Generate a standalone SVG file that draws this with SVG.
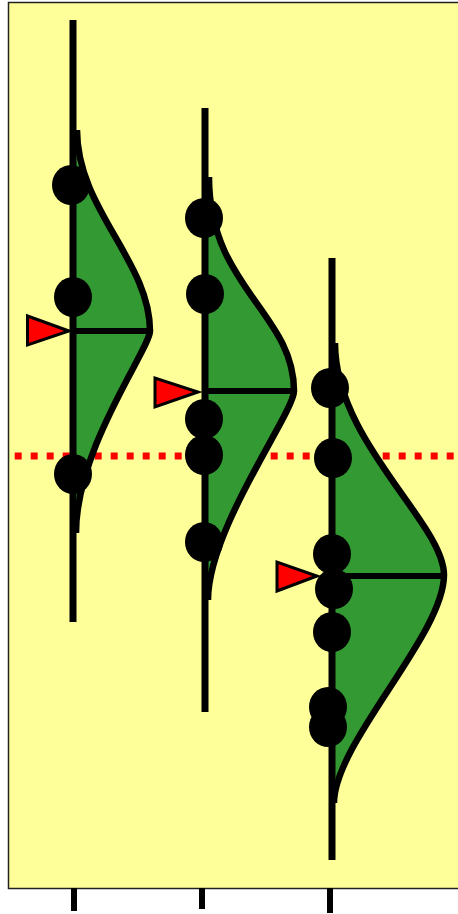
<svg xmlns="http://www.w3.org/2000/svg" width="458" height="914" viewBox="0 0 458 914">
<style>
.bg{fill:#ffff99;stroke:#222;stroke-width:1.5}
.axis{stroke:#000;stroke-width:7;fill:none}
.tick{stroke:#000;stroke-width:6}
.vfill{fill:#339933;stroke:none}
.vline{fill:none;stroke:#000;stroke-width:6.5;stroke-linejoin:round}
.med{stroke:#000;stroke-width:6}
.pt{fill:#000}
.tri{fill:#ff0000;stroke:#000;stroke-width:3;stroke-linejoin:miter}
.ref{stroke:#ff0000;stroke-width:7;stroke-dasharray:7 9;fill:none}
</style>
<rect class="bg" x="8.5" y="2.5" width="455" height="886"/>
<g id="ticks">
<line class="tick" x1="74" y1="888" x2="74" y2="911"/>
<line class="tick" x1="202" y1="888" x2="202" y2="909"/>
<line class="tick" x1="330" y1="888" x2="330" y2="913"/>
</g>
<g id="connectors">
<line class="ref" x1="14.7" y1="456" x2="458" y2="456"/>
</g>
<g id="group1">
<path class="vfill" d="M77,130 C77,209 150,261 150,331 C150,349 76,448 76,533 L73,533 L73,130 Z"/>
<path class="vline" d="M77,130 C77,209 150,261 150,331 C150,349 76,448 76,533"/>
<line class="axis" x1="73" y1="20" x2="73" y2="622"/>
<line class="med" x1="73" y1="331" x2="150" y2="331"/>
<ellipse class="pt" cx="71" cy="185" rx="19" ry="20"/>
<ellipse class="pt" cx="73" cy="297" rx="19" ry="20"/>
<ellipse class="pt" cx="73" cy="474" rx="19" ry="20"/>
<polygon class="tri" points="27.5,316 27.5,345 69,331"/>
</g>
<g id="group2">
<path class="vfill" d="M209,177 C209,287 294,313 294,391 C294,413 208,529 208,600 L205,600 L205,177 Z"/>
<path class="vline" d="M209,177 C209,287 294,313 294,391 C294,413 208,529 208,600"/>
<line class="axis" x1="205" y1="108" x2="205" y2="712"/>
<line class="med" x1="205" y1="391" x2="294" y2="391"/>
<ellipse class="pt" cx="204" cy="218" rx="19" ry="20"/>
<ellipse class="pt" cx="205" cy="294" rx="19" ry="20"/>
<ellipse class="pt" cx="204" cy="419" rx="19" ry="20"/>
<ellipse class="pt" cx="204" cy="455" rx="19" ry="20"/>
<ellipse class="pt" cx="204" cy="542" rx="19" ry="20"/>
<polygon class="tri" points="155,378 155,407 198,392"/>
</g>
<g id="group3">
<path class="vfill" d="M335,343 C335,442 444,523 444,575 C444,635 334,743 334,803 L332,803 L332,343 Z"/>
<path class="vline" d="M335,343 C335,442 444,523 444,575 C444,635 334,743 334,803"/>
<line class="axis" x1="332" y1="258" x2="332" y2="860"/>
<line class="med" x1="332" y1="576" x2="444" y2="576"/>
<ellipse class="pt" cx="330" cy="388" rx="19" ry="20"/>
<ellipse class="pt" cx="333" cy="458" rx="19" ry="20"/>
<ellipse class="pt" cx="332" cy="554" rx="19" ry="20"/>
<ellipse class="pt" cx="334" cy="589" rx="19" ry="20"/>
<ellipse class="pt" cx="332" cy="632" rx="19" ry="20"/>
<ellipse class="pt" cx="328" cy="707" rx="19" ry="20"/>
<ellipse class="pt" cx="328" cy="727" rx="19" ry="20"/>
<polygon class="tri" points="277,562 277,591 317,576"/>
</g>
</svg>
